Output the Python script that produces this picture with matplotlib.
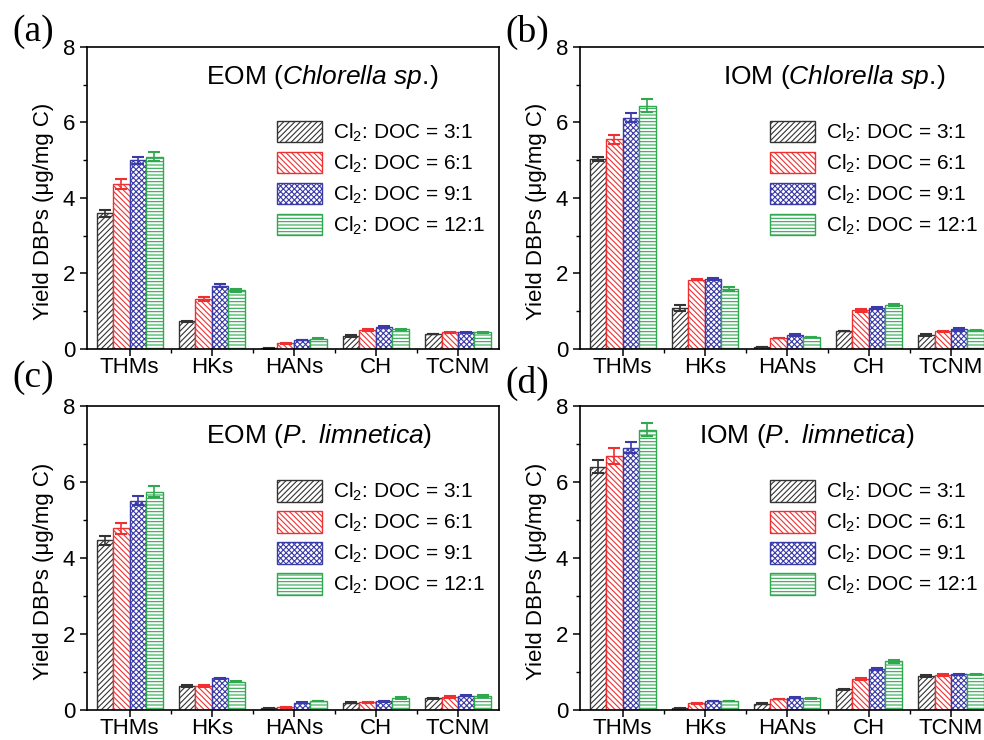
import numpy as np
import matplotlib
matplotlib.use("Agg")
import matplotlib.pyplot as plt
from matplotlib.ticker import MultipleLocator, FixedLocator

plt.rcParams['font.family'] = ['Liberation Sans', 'DejaVu Sans']
plt.rcParams['mathtext.fontset'] = 'custom'
plt.rcParams['mathtext.rm'] = 'Liberation Sans'
plt.rcParams['mathtext.it'] = 'Liberation Sans:italic'
plt.rcParams['hatch.linewidth'] = 0.8

categories = ["THMs", "HKs", "HANs", "CH", "TCNM"]
ratios = ["3:1", "6:1", "9:1", "12:1"]

# (a) EOM Chlorella sp.
a_vals = [[3.59, 0.73, 0.02, 0.35, 0.40],
          [4.37, 1.33, 0.15, 0.51, 0.44],
          [5.00, 1.68, 0.24, 0.58, 0.44],
          [5.09, 1.55, 0.27, 0.52, 0.44]]
a_err = [[0.09, 0.02, 0.01, 0.02, 0.01],
         [0.14, 0.05, 0.02, 0.02, 0.02],
         [0.09, 0.03, 0.01, 0.02, 0.01],
         [0.12, 0.03, 0.01, 0.02, 0.02]]
# (b) IOM Chlorella sp.
b_vals = [[5.03, 1.08, 0.05, 0.48, 0.37],
          [5.55, 1.84, 0.29, 1.02, 0.47],
          [6.12, 1.85, 0.37, 1.09, 0.52],
          [6.44, 1.58, 0.32, 1.17, 0.50]]
b_err = [[0.05, 0.08, 0.01, 0.01, 0.03],
         [0.12, 0.02, 0.01, 0.05, 0.01],
         [0.12, 0.03, 0.02, 0.02, 0.03],
         [0.17, 0.05, 0.01, 0.03, 0.01]]
# (c) EOM P. limnetica
c_vals = [[4.47, 0.63, 0.04, 0.19, 0.31],
          [4.78, 0.63, 0.07, 0.20, 0.34],
          [5.51, 0.83, 0.19, 0.23, 0.38],
          [5.75, 0.75, 0.24, 0.32, 0.37]]
c_err = [[0.12, 0.02, 0.01, 0.01, 0.01],
         [0.15, 0.02, 0.01, 0.01, 0.02],
         [0.12, 0.02, 0.01, 0.01, 0.01],
         [0.14, 0.02, 0.01, 0.02, 0.02]]
# (d) IOM P. limnetica
d_vals = [[6.40, 0.04, 0.17, 0.54, 0.90],
          [6.68, 0.18, 0.29, 0.82, 0.92],
          [6.90, 0.24, 0.32, 1.08, 0.94],
          [7.37, 0.24, 0.31, 1.28, 0.94]]
d_err = [[0.17, 0.01, 0.01, 0.02, 0.02],
         [0.21, 0.01, 0.01, 0.03, 0.03],
         [0.15, 0.01, 0.01, 0.02, 0.02],
         [0.17, 0.01, 0.01, 0.03, 0.02]]

colors = ['#333333', '#f03030', '#3a3aa8', '#2fa84f']
hatches = ['//////', '\\\\\\\\\\\\', 'xxxxxx', '-----']

panels = [
    ("(a)", "EOM ($\\mathit{Chlorella\\ sp.}\\!$)", a_vals, a_err, [87, 47, 349], 0.288, (33, 32)),
    ("(b)", "IOM ($\\mathit{Chlorella\\ sp.}\\!$)", b_vals, b_err, [580, 47, 349], 0.346, (527, 32)),
    ("(c)", "EOM ($\\mathit{P.\\ limnetica}$)", c_vals, c_err, [87, 406, 710], 0.288, (33, 378)),
    ("(d)", "IOM ($\\mathit{P.\\ limnetica}$)", d_vals, d_err, [580, 406, 710], 0.29, (527, 383)),
]

W, H = 984, 740
fig = plt.figure(figsize=(9.84, 7.4), dpi=100)
x = np.arange(len(categories))
bw = 0.2

for tag, title, vals, errs, box, tx, lab in panels:
    left, top, bottom = box
    ax = fig.add_axes([left / W, 1 - bottom / H, 412 / W, (bottom - top) / H])
    for i in range(4):
        ax.bar(x + (i - 1.5) * bw, vals[i], bw, yerr=errs[i], color='white',
               edgecolor=colors[i], hatch=hatches[i], linewidth=1.0,
               label="Cl$_2$: DOC = " + ratios[i],
               error_kw=dict(ecolor=colors[i], capsize=4, elinewidth=1.2, capthick=1.5))
    ax.set_xlim(-0.52, 4.5)
    ax.set_ylim(0, 8)
    ax.set_xticks(x)
    ax.set_xticklabels(categories)
    ax.xaxis.set_minor_locator(FixedLocator(x[:-1] + 0.5))
    ax.yaxis.set_major_locator(MultipleLocator(2))
    ax.yaxis.set_minor_locator(MultipleLocator(1))
    ax.tick_params(which='major', direction='out', length=5, width=1.1, labelsize=16)
    ax.tick_params(which='minor', direction='out', length=3, width=1.0)
    ax.tick_params(axis='x', pad=1)
    for s in ax.spines.values():
        s.set_linewidth(1.2)
    ax.set_ylabel("Yield DBPs (\u03bcg/mg C)", fontsize=16)
    ax.yaxis.set_label_coords(-0.08, 0.457)
    ax.text(tx, 0.90, title, transform=ax.transAxes, fontsize=19, ha='left', va='center')
    ax.legend(loc='upper left', bbox_to_anchor=(0.46, 0.755), frameon=False, fontsize=15,
              handlelength=2.2, handleheight=1.2, handletextpad=0.5, labelspacing=0.38,
              borderpad=0.0, borderaxespad=0.0)
    fig.text(lab[0] / W, 1 - lab[1] / H, tag, fontsize=27, family='Liberation Serif',
             ha='center', va='center')

fig.savefig("out.png", dpi=100)
